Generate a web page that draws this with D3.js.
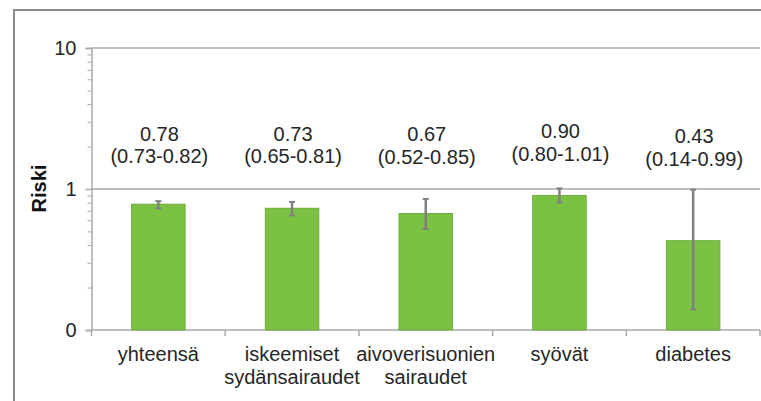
<!DOCTYPE html>
<html>
<head>
<meta charset="utf-8">
<script src="https://cdn.jsdelivr.net/npm/d3@7"></script>
<style>
  html, body { margin: 0; padding: 0; background: #fff; }
  svg { display: block; font-family: "Liberation Sans", Arial, sans-serif; }
</style>
</head>
<body>
<svg id="chart" width="761" height="401"></svg>
<script>
// Kuolleisuusriski syyryhmittäin (piste-estimaatti ja 95 %:n luottamusväli)
const categories = [
  ["yhteensä"],
  ["iskeemiset", "sydänsairaudet"],
  ["aivoverisuonien", "sairaudet"],
  ["syövät"],
  ["diabetes"]
];
const riskValues = [0.78, 0.73, 0.67, 0.90, 0.43];
const ciLower    = [0.73, 0.65, 0.52, 0.80, 0.14];
const ciUpper    = [0.82, 0.81, 0.85, 1.01, 0.99];
const yTickValues = [0.1, 1, 10];
const yTickLabels = ["0", "1", "10"];
const yAxisTitle = "Riski";

const svg = d3.select("#chart");
const textColor = "#262626";
const gridColor = "#a9a9a9";
const font = 20;

// outer chart frame (continues past the right and bottom edges)
svg.append("rect")
  .attr("x", 14).attr("y", 10)
  .attr("width", 800).attr("height", 420)
  .attr("fill", "none").attr("stroke", "#8c8c8c").attr("stroke-width", 2);

const plot = { left: 91.5, right: 760, top: 48, bottom: 330 };

const x = d3.scaleBand()
  .domain(d3.range(categories.length))
  .range([plot.left, plot.right]);

const y = d3.scaleLog()
  .domain([0.1, 10])
  .range([plot.bottom, plot.top]);

const barWidth = x.bandwidth() * 0.4;

// horizontal gridlines at 1 and 10
svg.append("g").selectAll("line")
  .data(yTickValues.slice(1))
  .join("line")
  .attr("x1", plot.left).attr("x2", plot.right)
  .attr("y1", d => y(d)).attr("y2", d => y(d))
  .attr("stroke", gridColor).attr("stroke-width", 1.5);

// minor ticks 2..9 in each decade
const minorTicks = [];
[0.1, 1].forEach(dec => { for (let k = 2; k <= 9; k++) minorTicks.push(dec * k); });
const minorAxis = d3.axisLeft(y).tickValues(minorTicks).tickSize(4).tickFormat("");
svg.append("g")
  .attr("transform", `translate(${plot.left},0)`)
  .call(minorAxis)
  .call(g => g.select(".domain").remove())
  .call(g => g.selectAll("line").attr("stroke", gridColor).attr("stroke-width", 1));

// main y axis
const yAxis = d3.axisLeft(y)
  .tickValues(yTickValues)
  .tickSize(6)
  .tickPadding(9)
  .tickFormat((d, i) => yTickLabels[i]);
svg.append("g")
  .attr("transform", `translate(${plot.left},0)`)
  .call(yAxis)
  .call(g => g.select(".domain").attr("stroke", gridColor).attr("stroke-width", 1.5))
  .call(g => g.selectAll(".tick line").attr("stroke", gridColor).attr("stroke-width", 1.5))
  .call(g => g.selectAll(".tick text")
    .attr("fill", textColor)
    .attr("font-size", font)
    .attr("font-family", "Liberation Sans, Arial, sans-serif"));

// category axis: baseline and tick marks at band boundaries
const xg = svg.append("g");
xg.append("line")
  .attr("x1", plot.left).attr("x2", plot.right)
  .attr("y1", y(0.1)).attr("y2", y(0.1))
  .attr("stroke", gridColor).attr("stroke-width", 1.5);
const boundaries = x.domain().map(i => x(i)).concat([x(categories.length - 1) + x.bandwidth()]);
xg.selectAll("line.tick")
  .data(boundaries)
  .join("line")
  .attr("class", "tick")
  .attr("x1", d => d).attr("x2", d => d)
  .attr("y1", y(0.1)).attr("y2", y(0.1) + 6)
  .attr("stroke", gridColor).attr("stroke-width", 1.5);

// bars
svg.append("g").selectAll("rect")
  .data(riskValues)
  .join("rect")
  .attr("x", (d, i) => x(i) + x.bandwidth() / 2 - barWidth / 2)
  .attr("y", d => y(d))
  .attr("width", barWidth)
  .attr("height", d => y(0.1) - y(d))
  .attr("fill", "#7bc143")
  .attr("stroke", "#6cae3a")
  .attr("stroke-width", 1);

// confidence intervals
const eb = svg.append("g").attr("stroke", "#808080").attr("stroke-width", 2.5);
riskValues.forEach((d, i) => {
  const cx = x(i) + x.bandwidth() / 2;
  eb.append("line")
    .attr("x1", cx).attr("x2", cx)
    .attr("y1", y(ciLower[i])).attr("y2", y(ciUpper[i]));
  [ciLower[i], ciUpper[i]].forEach(v => {
    eb.append("line")
      .attr("x1", cx - 3).attr("x2", cx + 3)
      .attr("y1", y(v)).attr("y2", y(v))
      .attr("stroke-width", 2);
  });
});

// value labels above the plot
const labelNudge = [0, 0, 0.5, -2.5, 2.5];
const lg = svg.append("g")
  .attr("fill", textColor)
  .attr("font-size", font)
  .attr("text-anchor", "middle");
riskValues.forEach((d, i) => {
  const cx = x(i) + x.bandwidth() / 2 + 1;
  lg.append("text")
    .attr("x", cx).attr("y", 140.5 + labelNudge[i])
    .text(d.toFixed(2));
  lg.append("text")
    .attr("x", cx).attr("y", 163 + labelNudge[i])
    .text(`(${ciLower[i].toFixed(2)}-${ciUpper[i].toFixed(2)})`);
});

// category labels
const cg = svg.append("g")
  .attr("fill", textColor)
  .attr("font-size", font)
  .attr("text-anchor", "middle");
categories.forEach((lines, i) => {
  const cx = x(i) + x.bandwidth() / 2;
  lines.forEach((t, j) => {
    cg.append("text")
      .attr("x", cx).attr("y", 361 + j * 23)
      .text(t);
  });
});

// y axis title
svg.append("text")
  .attr("transform", "translate(45.5,188.5) rotate(-90)")
  .attr("text-anchor", "middle")
  .attr("font-size", font)
  .attr("font-weight", "bold")
  .attr("fill", "#111")
  .text(yAxisTitle);
</script>
</body>
</html>
